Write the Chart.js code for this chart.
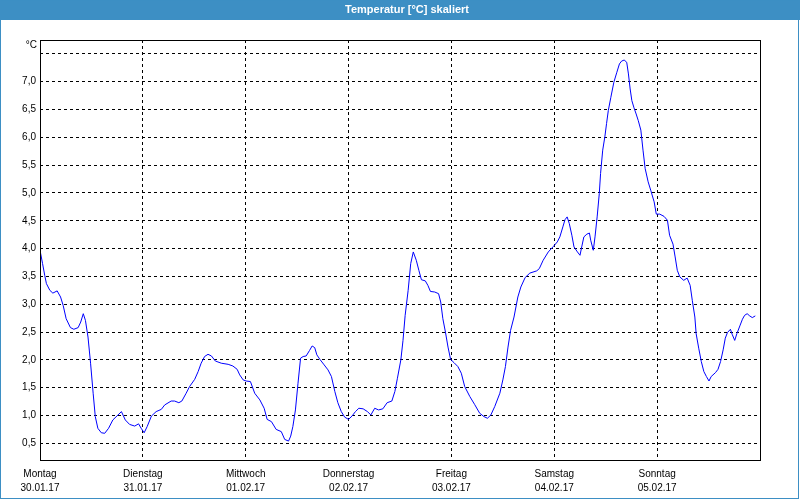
<!DOCTYPE html>
<html>
<head>
<meta charset="utf-8">
<script src="https://cdn.jsdelivr.net/npm/chart.js@4.4.1/dist/chart.umd.min.js"></script>
<style>
body { margin: 0; background: #fff; }
</style>
</head>
<body>
<canvas id="grafico" width="800" height="500"></canvas>
<script>
// Stunden ab Montag 00:00 und Temperatur in °C
var hours = [0, 0.6, 1.1, 1.5, 2.3, 3.0, 4.0, 4.8, 5.4, 6.1, 7.1, 7.9, 8.9, 9.5, 10.1, 10.6, 11.2, 11.8, 12.4, 12.9,
	13.5, 14.3, 15.1, 16.0, 17.0, 18.2, 19.0, 19.9, 20.9, 22.1, 23.0, 23.6, 24.3, 25.0, 26.0, 27.1, 28.3, 29.1, 30.6, 31.4,
	32.4, 33.1, 34.1, 34.9, 36.1, 36.9, 37.6, 38.4, 39.2, 40.0, 40.9, 42.3, 43.9, 45.0, 46.0, 46.6, 47.4, 48.1, 49.1, 50.1,
	51.3, 52.3, 53.0, 54.0, 55.1, 56.3, 57.1, 58.0, 58.5, 59.0, 59.6, 60.2, 60.8, 61.4, 62.1, 62.9, 63.5, 64.1, 64.6, 65.3,
	66.3, 67.2, 68.0, 68.8, 69.5, 70.3, 71.1, 72.0, 72.8, 73.6, 74.4, 75.4, 76.4, 77.2, 78.1, 79.0, 80.0, 81.0, 82.1, 82.8,
	83.4, 84.2, 84.7, 85.2, 85.9, 86.5, 87.1, 87.8, 88.4, 89.0, 89.9, 90.5, 91.1, 92.1, 93.0, 93.5, 94.0, 94.6, 95.2, 95.8,
	96.6, 97.5, 98.3, 99.1, 100.3, 101.4, 102.6, 103.6, 104.4, 105.2, 106.1, 107.3, 108.0, 108.6, 109.2, 109.8, 110.6, 111.5, 112.2, 113.2,
	114.3, 115.9, 116.5, 117.4, 118.6, 119.8, 120.7, 121.3, 122.0, 122.5, 123.0, 123.5, 124.1, 124.6, 125.4, 126.0, 126.4, 126.9, 127.6, 128.2,
	128.5, 129.1, 129.5, 130.0, 130.5, 130.8, 131.3, 131.8, 132.2, 132.6, 133.2, 133.9, 134.6, 135.2, 135.7, 136.3, 136.9, 137.3, 137.7, 138.1,
	138.6, 139.1, 139.6, 140.2, 140.7, 141.2, 141.9, 142.5, 143.3, 143.8, 144.6, 145.6, 146.4, 146.9, 147.7, 148.2, 148.7, 149.3, 150.2, 151.0,
	151.7, 152.2, 152.8, 153.1, 153.7, 154.3, 154.9, 155.5, 156.1, 156.6, 157.6, 158.2, 158.8, 159.4, 159.9, 160.4, 161.1, 161.5, 162.1, 162.6,
	163.3, 163.9, 164.4, 165.0, 165.6, 166.2, 166.9];
var temps = [3.97, 3.73, 3.52, 3.37, 3.25, 3.20, 3.24, 3.13, 2.98, 2.74, 2.58, 2.55, 2.58, 2.68, 2.83, 2.71, 2.41, 1.94, 1.40, 0.98,
	0.77, 0.69, 0.68, 0.77, 0.92, 1.01, 1.07, 0.92, 0.84, 0.81, 0.85, 0.77, 0.69, 0.80, 0.99, 1.07, 1.11, 1.19, 1.26, 1.26,
	1.23, 1.26, 1.40, 1.52, 1.65, 1.79, 1.94, 2.06, 2.10, 2.07, 1.98, 1.94, 1.92, 1.89, 1.83, 1.73, 1.64, 1.62, 1.61, 1.40,
	1.28, 1.13, 0.93, 0.89, 0.75, 0.71, 0.57, 0.54, 0.63, 0.80, 1.10, 1.58, 2.03, 2.06, 2.07, 2.17, 2.25, 2.22, 2.09, 2.01,
	1.91, 1.82, 1.70, 1.43, 1.23, 1.07, 0.97, 0.93, 0.99, 1.07, 1.13, 1.12, 1.07, 1.01, 1.13, 1.10, 1.12, 1.23, 1.26, 1.43,
	1.67, 2.00, 2.35, 2.80, 3.25, 3.73, 3.94, 3.79, 3.61, 3.44, 3.42, 3.34, 3.23, 3.22, 3.19, 3.04, 2.74, 2.50, 2.23, 2.01,
	1.95, 1.88, 1.76, 1.52, 1.34, 1.20, 1.04, 0.98, 0.95, 1.01, 1.16, 1.40, 1.64, 1.88, 2.23, 2.53, 2.77, 3.13, 3.31, 3.48,
	3.56, 3.60, 3.64, 3.79, 3.94, 4.04, 4.12, 4.21, 4.39, 4.52, 4.57, 4.45, 4.24, 4.03, 3.94, 3.88, 4.03, 4.21, 4.26, 4.28,
	4.15, 3.97, 4.21, 4.57, 4.99, 5.35, 5.77, 6.01, 6.25, 6.48, 6.72, 6.99, 7.17, 7.32, 7.37, 7.39, 7.35, 7.14, 6.87, 6.66,
	6.53, 6.42, 6.30, 6.13, 5.77, 5.44, 5.20, 5.05, 4.84, 4.62, 4.62, 4.58, 4.51, 4.24, 4.08, 3.85, 3.61, 3.49, 3.43, 3.47,
	3.34, 3.07, 2.77, 2.47, 2.21, 1.97, 1.79, 1.70, 1.62, 1.70, 1.77, 1.83, 1.97, 2.18, 2.39, 2.49, 2.55, 2.46, 2.35, 2.47,
	2.61, 2.73, 2.80, 2.83, 2.79, 2.76, 2.79];

var tage = ['Montag', 'Dienstag', 'Mittwoch', 'Donnerstag', 'Freitag', 'Samstag', 'Sonntag'];
var daten = ['30.01.17', '31.01.17', '01.02.17', '02.02.17', '03.02.17', '04.02.17', '05.02.17'];
var yTicks = [0.5, 1.0, 1.5, 2.0, 2.5, 3.0, 3.5, 4.0, 4.5, 5.0, 5.5, 6.0, 6.5, 7.0, 7.5];
var xTicks = [0, 24, 48, 72, 96, 120, 144];

var punkte = hours.map(function (h, i) { return {x: h, y: temps[i]}; });

var rahmen = {
	id: 'rahmen',
	beforeDraw: function (chart) {
		var ctx = chart.ctx;
		ctx.save();
		ctx.fillStyle = '#ffffff';
		ctx.fillRect(0, 0, 800, 500);
		ctx.fillStyle = '#3d8fc4';
		ctx.fillRect(0, 0, 800, 20);
		ctx.strokeStyle = '#3d8fc4';
		ctx.lineWidth = 1;
		ctx.strokeRect(0.5, 0, 798, 498.5);
		ctx.restore();
	},
	afterDraw: function (chart) {
		var ctx = chart.ctx;
		var a = chart.chartArea;
		ctx.save();
		ctx.strokeStyle = '#000000';
		ctx.lineWidth = 1;
		ctx.strokeRect(Math.round(a.left) + 0.5, Math.round(a.top) + 0.5, Math.round(a.right - a.left), Math.round(a.bottom - a.top));
		ctx.fillStyle = '#000000';
		ctx.font = '10px "Liberation Sans"';
		ctx.textAlign = 'right';
		ctx.textBaseline = 'middle';
		ctx.fillText('°C', a.left - 3, a.top + 5);
		ctx.restore();
	}
};

var canvas = document.getElementById('grafico');

var grafico = new Chart(canvas, {
	type: 'line',
	data: {
		datasets: [{
			label: 'Temperatur',
			data: punkte,
			borderColor: '#0000ff',
			borderWidth: 1,
			pointRadius: 0,
			tension: 0,
			fill: false
		}]
	},
	options: {
		responsive: false,
		animation: false,
		layout: {
			padding: {left: 14, right: 0, top: 0, bottom: 0}
		},
		plugins: {
			legend: {display: false},
			tooltip: {enabled: false},
			title: {
				display: true,
				text: 'Temperatur [°C] skaliert',
				color: '#ffffff',
				font: {family: '"Liberation Sans"', size: 11, weight: 'bold'},
				padding: {top: 3.5, bottom: 23.3}
			}
		},
		scales: {
			x: {
				type: 'linear',
				min: 0,
				max: 168,
				afterBuildTicks: function (scale) {
					scale.ticks = xTicks.map(function (v) { return {value: v}; });
				},
				afterFit: function (scale) { scale.height = 40; },
				ticks: {
					color: '#000000',
					padding: 7,
					maxRotation: 0,
					autoSkip: false,
					font: {family: '"Liberation Sans"', size: 10, lineHeight: '14px'},
					callback: function (v) {
						var i = Math.round(v / 24);
						return [tage[i], daten[i]];
					}
				},
				grid: {color: '#000000', drawTicks: false},
				border: {display: false, dash: [3, 3]}
			},
			y: {
				min: 0.2,
				max: 7.75,
				afterBuildTicks: function (scale) {
					scale.ticks = yTicks.map(function (v) { return {value: v}; });
				},
				afterFit: function (scale) { scale.width = 26; },
				ticks: {
					color: '#000000',
					padding: 4,
					font: {family: '"Liberation Sans"', size: 10},
					callback: function (v) {
						if (v === 7.5) return '';
						return v.toFixed(1).replace('.', ',');
					}
				},
				grid: {color: '#000000', drawTicks: false},
				border: {display: false, dash: [3, 3]}
			},
			rechts: {
				position: 'right',
				display: true,
				afterFit: function (scale) { scale.width = 40; },
				ticks: {display: false},
				grid: {display: false},
				border: {display: false}
			}
		}
	},
	plugins: [rahmen]
});
</script>
</body>
</html>
